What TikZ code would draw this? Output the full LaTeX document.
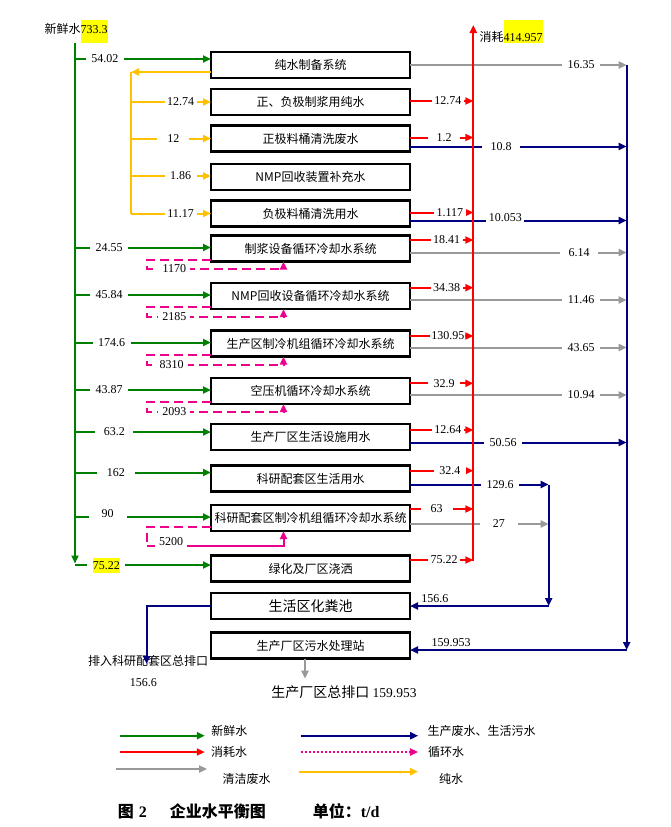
\documentclass[tikz,border=0pt]{standalone}
\usepackage{fontspec}
\setmainfont{Liberation Serif}
\newfontfamily\cjk{Noto Sans CJK SC}
\usetikzlibrary{arrows.meta, positioning}

\definecolor{freshgreen}{RGB}{0,128,0}
\definecolor{wastenavy}{RGB}{0,0,128}
\definecolor{cleangray}{RGB}{153,153,153}
\definecolor{pureorange}{RGB}{255,192,0}
\definecolor{hlyellow}{RGB}{255,255,0}
% highlighted number: depth, total height, text
\newcommand{\hlnum}[3]{{\setlength{\fboxsep}{0pt}\colorbox{hlyellow}{\rule[-#1]{0pt}{#2}#3}}}

\begin{document}
\begin{tikzpicture}[
    x=1pt, y=-1pt,
    >={Triangle[length=8pt,width=7pt]},
    box/.style={draw, line width=2.8pt, minimum width=199pt, minimum height=26pt, inner xsep=1pt, outer sep=0pt, align=center, font=\cjk\fontsize{12}{14}\selectfont},
    flow/.style={line width=2pt, ->},
    fresh/.style={flow, freshgreen},
    consumed/.style={flow, red},
    waste/.style={flow, wastenavy},
    clean/.style={flow, cleangray},
    purew/.style={flow, pureorange},
    circ/.style={flow, magenta, dash pattern=on 9pt off 5pt},
    lbl/.style={fill=white, text=black, inner sep=1pt, minimum width=32pt, font=\fontsize{12}{14}\selectfont},
    wlbl/.style={lbl, minimum width=38pt},
    vlbl/.style={text=black, inner sep=2pt, font=\fontsize{12}{14}\selectfont},
    txt/.style={text=black, font=\cjk\fontsize{12}{14}\selectfont}
]
    \useasboundingbox (0,0) rectangle (671,827);
    % Process boxes down the middle column
    \node[box] (pure) at (310.5,65) {纯水制备系统};
    \node[box, below=11pt of pure] (slurry) {正、负极制浆用纯水};
    \node[box, below=10.5pt of slurry] (poswash) {正极料桶清洗废水};
    \node[box, below=12.5pt of poswash] (nmpmake) {NMP回收装置补充水};
    \node[box, below=10.5pt of nmpmake] (negwash) {负极料桶清洗用水};
    \node[box, below=9pt of negwash] (slurrycool) {制浆设备循环冷却水系统};
    \node[box, below=21.5pt of slurrycool] (nmpcool) {NMP回收设备循环冷却水系统};
    \node[box, below=21.5pt of nmpcool] (chiller) {生产区制冷机组循环冷却水系统};
    \node[box, below=21.5pt of chiller] (aircomp) {空压机循环冷却水系统};
    \node[box, below=20pt of aircomp] (plantlife) {生产厂区生活设施用水};
    \node[box, below=15.5pt of plantlife] (reslife) {科研配套区生活用水};
    \node[box, below=13.5pt of reslife] (reschiller) {科研配套区制冷机组循环冷却水系统};
    \node[box, below=24.5pt of reschiller] (green) {绿化及厂区浇洒};
    \node[box, below=11.5pt of green, font=\cjk\fontsize{14}{16}\selectfont] (septic) {生活区化粪池};
    \node[box, below=13.5pt of septic] (wwtp) {生产厂区污水处理站};
    % Trunk lines
    \coordinate (ftrunk) at (75,0);
    \coordinate (ptrunk) at (131,0);
    \coordinate (rtrunk) at (473.3,0);
    \coordinate (mtrunk) at (548.7,0);
    \coordinate (ntrunk) at (626.7,0);
    \coordinate (rtop) at (473.3,25);
    \node[txt, anchor=south, inner sep=0pt] (freshin) at (76,43) {新鲜水{\rmfamily\hlnum{9pt}{23pt}{733.3}}};
    \node[txt, anchor=south west, inner sep=0pt] (consume) at (479.3,43.3) {消耗{\rmfamily\hlnum{1.6pt}{22.6pt}{414.957}}};
    % Fresh water
    \draw[fresh] (freshin.south -| ftrunk) -- ([yshift=5pt]green.west -| ftrunk);
    \draw[fresh] ([yshift=6pt]pure.west -| ftrunk) -- node[wlbl, pos=.22] {54.02} ([yshift=6pt]pure.west);
    \draw[fresh] ([yshift=1pt]slurrycool.west -| ftrunk) -- node[wlbl, pos=.25] {24.55} ([yshift=1pt]slurrycool.west);
    \draw[fresh] ([yshift=1pt]nmpcool.west -| ftrunk) -- node[wlbl, pos=.25] {45.84} ([yshift=1pt]nmpcool.west);
    \draw[fresh] ([yshift=1pt]chiller.west -| ftrunk) -- node[wlbl, pos=.27] {174.6} ([yshift=1pt]chiller.west);
    \draw[fresh] ([yshift=1pt]aircomp.west -| ftrunk) -- node[wlbl, pos=.25] {43.87} ([yshift=1pt]aircomp.west);
    \draw[fresh] ([yshift=5pt]plantlife.west -| ftrunk) -- node[wlbl, pos=.29] {63.2} ([yshift=5pt]plantlife.west);
    \draw[fresh] ([yshift=6pt]reslife.west -| ftrunk) -- node[wlbl, pos=.3] {162} ([yshift=6pt]reslife.west);
    \draw[fresh] ([yshift=1pt]reschiller.west -| ftrunk) -- node[wlbl, pos=.24, yshift=3pt] {90} ([yshift=1pt]reschiller.west);
    \draw[fresh] ([yshift=3.5pt]green.west -| ftrunk) -- node[wlbl, pos=.23] {\hlnum{3.5pt}{15pt}{75.22}} ([yshift=3.5pt]green.west);
    % Pure water
    \draw[purew] ([yshift=-7pt]pure.west) -- ([yshift=-7pt]pure.west -| ptrunk);
    \draw[purew, -] ([yshift=-7pt]pure.west -| ptrunk) -- (ptrunk |- negwash.west);
    \draw[purew] (ptrunk |- slurry.west) -- node[lbl, pos=.62] {12.74} (slurry.west);
    \draw[purew] (ptrunk |- poswash.west) -- node[lbl, pos=.53] {12} (poswash.west);
    \draw[purew] ([yshift=1pt]nmpmake.west -| ptrunk) -- node[lbl, pos=.62] {1.86} ([yshift=1pt]nmpmake.west);
    \draw[purew] (ptrunk |- negwash.west) -- node[lbl, pos=.62] {11.17} (negwash.west);
    % Clean waste water
    \draw[clean] (pure.east) -- node[wlbl, pos=.79] {16.35} (pure.east -| ntrunk);
    \draw[clean] ([yshift=-4pt]slurrycool.east) -- node[wlbl, pos=.78] {6.14} ([yshift=-4pt]slurrycool.east -| ntrunk);
    \draw[clean] ([yshift=-4pt]nmpcool.east) -- node[wlbl, pos=.79] {11.46} ([yshift=-4pt]nmpcool.east -| ntrunk);
    \draw[clean] ([yshift=-4pt]chiller.east) -- node[wlbl, pos=.79] {43.65} ([yshift=-4pt]chiller.east -| ntrunk);
    \draw[clean] ([yshift=-4pt]aircomp.east) -- node[wlbl, pos=.79] {10.94} ([yshift=-4pt]aircomp.east -| ntrunk);
    \draw[clean] ([yshift=-6pt]reschiller.east) -- node[wlbl, pos=.64] {27} ([yshift=-6pt]reschiller.east -| mtrunk);
    % Production and domestic waste water
    \draw[waste] ([yshift=-8pt]poswash.east) -- node[wlbl, pos=.42] {10.8} ([yshift=-8pt]poswash.east -| ntrunk);
    \draw[waste] ([yshift=-7pt]negwash.east) -- node[wlbl, pos=.44, yshift=3pt] {10.053} ([yshift=-7pt]negwash.east -| ntrunk);
    \draw[waste] ([yshift=-5.5pt]plantlife.east) -- node[wlbl, pos=.43] {50.56} ([yshift=-5.5pt]plantlife.east -| ntrunk);
    \draw[waste] ([yshift=-6pt]reslife.east) -- node[wlbl, pos=.65] {129.6} ([yshift=-6pt]reslife.east -| mtrunk);
    \draw[waste] ([yshift=-6pt]reslife.east -| mtrunk) -- (mtrunk |- septic.east);
    \draw[waste] (mtrunk |- septic.east) -- node[vlbl, above, pos=.82] {156.6} (septic.east);
    \draw[waste] (ntrunk |- pure.east) -- ([yshift=-4.5pt]wwtp.east -| ntrunk);
    \draw[waste] ([yshift=-4.5pt]wwtp.east -| ntrunk) -- node[vlbl, above, pos=.81] {159.953} ([yshift=-4.5pt]wwtp.east);
    % Consumed water
    \draw[consumed] ([yshift=8pt]green.east -| rtrunk) -- (rtop);
    \draw[consumed] ([yshift=1pt]slurry.east) -- node[lbl, pos=.6] {12.74} ([yshift=1pt]slurry.east -| rtrunk);
    \draw[consumed] ([yshift=1pt]poswash.east) -- node[lbl, pos=.54] {1.2} ([yshift=1pt]poswash.east -| rtrunk);
    \draw[consumed] ([yshift=1pt]negwash.east) -- node[lbl, pos=.63] {1.117} ([yshift=1pt]negwash.east -| rtrunk);
    \draw[consumed] ([yshift=8.5pt]slurrycool.east) -- node[lbl, pos=.58] {18.41} ([yshift=8.5pt]slurrycool.east -| rtrunk);
    \draw[consumed] ([yshift=8.3pt]nmpcool.east) -- node[lbl, pos=.58] {34.38} ([yshift=8.3pt]nmpcool.east -| rtrunk);
    \draw[consumed] ([yshift=7.5pt]chiller.east) -- node[lbl, pos=.6] {130.95} ([yshift=7.5pt]chiller.east -| rtrunk);
    \draw[consumed] ([yshift=7.7pt]aircomp.east) -- node[lbl, pos=.54] {32.9} ([yshift=7.7pt]aircomp.east -| rtrunk);
    \draw[consumed] ([yshift=7pt]plantlife.east) -- node[lbl, pos=.6] {12.64} ([yshift=7pt]plantlife.east -| rtrunk);
    \draw[consumed] ([yshift=7.8pt]reslife.east) -- node[lbl, pos=.63] {32.4} ([yshift=7.8pt]reslife.east -| rtrunk);
    \draw[consumed] ([yshift=9pt]reschiller.east) -- node[lbl, pos=.42] {63} ([yshift=9pt]reschiller.east -| rtrunk);
    \draw[consumed] ([yshift=8.5pt]green.east) -- node[lbl, pos=.54] {75.22} ([yshift=8.5pt]green.east -| rtrunk);
    % Circulating water loops
    \draw[circ] ([yshift=2pt]slurrycool.south west) -- ++(-64pt,0pt) -- ++(0pt,-9.5pt) -- node[lbl, pos=.2] {1170} ++(136.5pt,0pt) -- ([xshift=-27pt]slurrycool.south);
    \draw[circ] ([yshift=2pt]nmpcool.south west) -- ++(-64pt,0pt) -- ++(0pt,-10pt) -- node[lbl, pos=.2] {2185} ++(136.5pt,0pt) -- ([xshift=-27pt]nmpcool.south);
    \draw[circ] ([yshift=2pt]chiller.south west) -- ++(-64pt,0pt) -- ++(0pt,-10pt) -- node[lbl, pos=.18] {8310} ++(136.5pt,0pt) -- ([xshift=-27pt]chiller.south);
    \draw[circ] ([yshift=2pt]aircomp.south west) -- ++(-64pt,0pt) -- ++(0pt,-10pt) -- node[lbl, pos=.2] {2093} ++(136.5pt,0pt) -- ([xshift=-27pt]aircomp.south);
    \draw[circ, -] ([yshift=4pt]reschiller.south west) -- ++(-64.5pt,0pt) -- ++(0pt,-18.5pt) coordinate (loopend);
    \draw[circ, solid] (loopend) -- node[lbl, pos=.18, yshift=4pt] {5200} ++(137pt,0pt) -- ([xshift=-27pt]reschiller.south);
    % Outlets
    \node[txt] (resout) at (148,661) {排入科研配套区总排口};
    \node[vlbl] (resval) at (143.3,682.7) {156.6};
    \draw[waste] (septic.west) -| ([xshift=-1.3pt,yshift=-3pt]resout.center);
    \node[font=\cjk\fontsize{14}{16}\selectfont] (plantout) at (344,692.7) {生产厂区总排口\ {\rmfamily\fontsize{13.5}{16}\selectfont 159.953}};
    \draw[clean] ([xshift=-5.5pt]wwtp.south) -- ([xshift=-5.5pt,yshift=4pt]wwtp.south |- plantout.north);
    % Legend
    \node[txt] (lgfresh) at (229.3,730.7) {新鲜水};
    \node[txt] (lgwaste) at (481.7,730.7) {生产废水、生活污水};
    \node[txt] (lgcons) at (229,752) {消耗水};
    \node[txt] (lgcirc) at (446,752) {循环水};
    \node[txt] (lgclean) at (246.7,779.3) {清洁废水};
    \node[txt] (lgpure) at (451,779.3) {纯水};
    \draw[fresh] ([xshift=-88pt,yshift=-5pt]lgfresh.west) -- ([xshift=-3pt,yshift=-5pt]lgfresh.west);
    \draw[waste] ([xshift=-123.4pt,yshift=-5pt]lgwaste.west) -- ([xshift=-6pt,yshift=-5pt]lgwaste.west);
    \draw[consumed] ([xshift=-87.7pt]lgcons.west) -- ([xshift=-2.7pt]lgcons.west);
    \draw[flow, magenta, dash pattern=on 2pt off 2pt] ([xshift=-123.7pt]lgcirc.west) -- ([xshift=-6.4pt]lgcirc.west);
    \draw[clean] ([xshift=-102.7pt,yshift=10.3pt]lgclean.west) -- ([xshift=-12.1pt,yshift=10.3pt]lgclean.west);
    \draw[purew] ([xshift=-136.7pt,yshift=7.6pt]lgpure.west) -- ([xshift=-17.4pt,yshift=7.6pt]lgpure.west);
    % Caption
    \node[anchor=west, inner sep=0pt, font=\bfseries\fontsize{16}{18}\selectfont] (caption) at (117.7,811.7) {{\cjk 图}\hspace{5pt}2\hspace{23pt}{\cjk 企业水平衡图}\hspace{47pt}{\cjk 单位：}t/d};
\end{tikzpicture}
\end{document}
